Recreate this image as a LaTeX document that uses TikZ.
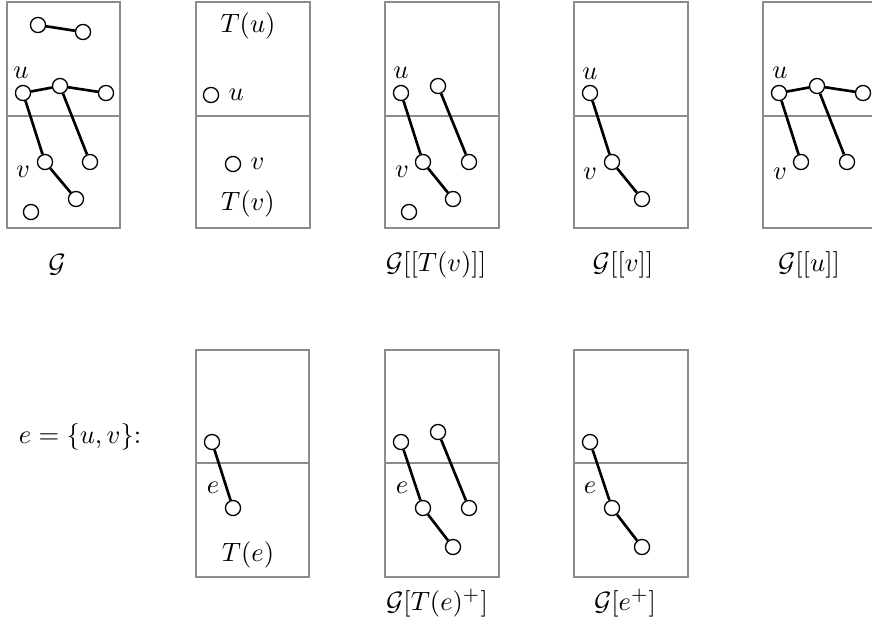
\documentclass[tikz,border=0pt]{standalone}
\begin{document}
\begin{tikzpicture}[x=0.01326cm,y=-0.01326cm,
  frame/.style={draw=black!45,line width=0.5pt},
  vtx/.style={circle,draw,fill=white,line width=0.5pt,minimum size=0.2cm,inner sep=0pt},
  edge/.style={line width=1pt},
  lbl/.style={inner sep=0pt}]
\useasboundingbox (0,0) rectangle (872,632);

% ---------- Panel 1: G
\begin{scope}[shift={(7,2)}]
  \draw[frame] (0,0) rectangle (113,226);
  \draw[frame] (0,114) -- (113,114);
  \node[vtx] (p1a) at (31,23) {};
  \node[vtx] (p1b) at (76,30) {};
  \node[vtx] (p1u) at (16,91) {};
  \node[vtx] (p1m) at (53,84) {};
  \node[vtx] (p1r) at (99,91) {};
  \node[vtx] (p1v) at (38,160) {};
  \node[vtx] (p1w) at (83,160) {};
  \node[vtx] (p1x) at (69,197) {};
  \node[vtx] (p1z) at (24,210) {};
  \draw[edge] (p1a) -- (p1b);
  \draw[edge] (p1u) -- (p1m);
  \draw[edge] (p1m) -- (p1r);
  \draw[edge] (p1u) -- (p1v);
  \draw[edge] (p1m) -- (p1w);
  \draw[edge] (p1v) -- (p1x);
  \node[lbl] (p1ul) at (14,71) {$u$};
  \node[lbl] (p1vl) at (16,170) {$v$};
\end{scope}

% ---------- Panel 2: T(u), T(v)
\begin{scope}[shift={(196,2)}]
  \draw[frame] (0,0) rectangle (114,226);
  \draw[frame] (0,114) -- (114,114);
  \node (p2tu) at (52,24) {$T(u)$};
  \node[vtx] (p2u) at (15,93) {};
  \node[anchor=west] (p2ul) at (p2u.east) {$u$};
  \node[vtx] (p2v) at (37,162) {};
  \node[anchor=west] (p2vl) at (p2v.east) {$v$};
  \node (p2tv) at (52,202) {$T(v)$};
\end{scope}

% ---------- Panel 3: G[[T(v)]]
\begin{scope}[shift={(385,2)}]
  \draw[frame] (0,0) rectangle (114,226);
  \draw[frame] (0,114) -- (114,114);
  \node[vtx] (p3u) at (16,91) {};
  \node[vtx] (p3m) at (53,84) {};
  \node[vtx] (p3v) at (38,160) {};
  \node[vtx] (p3w) at (84,160) {};
  \node[vtx] (p3x) at (68,197) {};
  \node[vtx] (p3z) at (24,210) {};
  \draw[edge] (p3u) -- (p3v);
  \draw[edge] (p3v) -- (p3x);
  \draw[edge] (p3m) -- (p3w);
  \node[lbl] (p3ul) at (16,71) {$u$};
  \node[lbl] (p3vl) at (17,170) {$v$};
\end{scope}

% ---------- Panel 4: G[[v]]
\begin{scope}[shift={(574,2)}]
  \draw[frame] (0,0) rectangle (114,226);
  \draw[frame] (0,114) -- (114,114);
  \node[vtx] (p4u) at (16,91) {};
  \node[vtx] (p4v) at (38,160) {};
  \node[vtx] (p4x) at (68,197) {};
  \draw[edge] (p4u) -- (p4v);
  \draw[edge] (p4v) -- (p4x);
  \node[lbl] (p4ul) at (16,72) {$u$};
  \node[lbl] (p4vl) at (16,172) {$v$};
\end{scope}

% ---------- Panel 5: G[[u]]
\begin{scope}[shift={(763,2)}]
  \draw[frame] (0,0) rectangle (114,226);
  \draw[frame] (0,114) -- (114,114);
  \node[vtx] (p5u) at (16,91) {};
  \node[vtx] (p5m) at (54,84) {};
  \node[vtx] (p5r) at (100,91) {};
  \node[vtx] (p5v) at (38,160) {};
  \node[vtx] (p5w) at (84,160) {};
  \draw[edge] (p5u) -- (p5m);
  \draw[edge] (p5m) -- (p5r);
  \draw[edge] (p5u) -- (p5v);
  \draw[edge] (p5m) -- (p5w);
  \node[lbl] (p5ul) at (17,71) {$u$};
  \node[lbl] (p5vl) at (17,172) {$v$};
\end{scope}

% ---------- Top captions
\node (c1) at (57,265) {$\mathcal{G}$};
\node (c3) at (436,265) {$\mathcal{G}[[T(v)]]$};
\node (c4) at (623,265) {$\mathcal{G}[[v]]$};
\node (c5) at (809,265) {$\mathcal{G}[[u]]$};

% ---------- Bottom row
\node (ce) at (80,437) {$e=\{u,v\}$:};

\begin{scope}[shift={(196,350)}]
  \draw[frame] (0,0) rectangle (113,227);
  \draw[frame] (0,113) -- (113,113);
  \node[vtx] (p6u) at (16,92) {};
  \node[vtx] (p6v) at (37,158) {};
  \draw[edge] (p6u) -- (p6v);
  \node[lbl] (p6el) at (17,138) {$e$};
  \node (p6te) at (52,205) {$T(e)$};
\end{scope}

\begin{scope}[shift={(385,350)}]
  \draw[frame] (0,0) rectangle (114,227);
  \draw[frame] (0,113) -- (114,113);
  \node[vtx] (p7u) at (16,92) {};
  \node[vtx] (p7m) at (53,82) {};
  \node[vtx] (p7v) at (38,158) {};
  \node[vtx] (p7w) at (84,158) {};
  \node[vtx] (p7x) at (68,197) {};
  \draw[edge] (p7u) -- (p7v);
  \draw[edge] (p7v) -- (p7x);
  \draw[edge] (p7m) -- (p7w);
  \node[lbl] (p7el) at (17,138) {$e$};
\end{scope}

\begin{scope}[shift={(574,350)}]
  \draw[frame] (0,0) rectangle (114,227);
  \draw[frame] (0,113) -- (114,113);
  \node[vtx] (p8u) at (16,92) {};
  \node[vtx] (p8v) at (38,158) {};
  \node[vtx] (p8x) at (68,197) {};
  \draw[edge] (p8u) -- (p8v);
  \draw[edge] (p8v) -- (p8x);
  \node[lbl] (p8el) at (16,138) {$e$};
\end{scope}

\node (c7) at (437,603) {$\mathcal{G}[T(e)^+]$};
\node (c8) at (625,603) {$\mathcal{G}[e^+]$};
\end{tikzpicture}
\end{document}
